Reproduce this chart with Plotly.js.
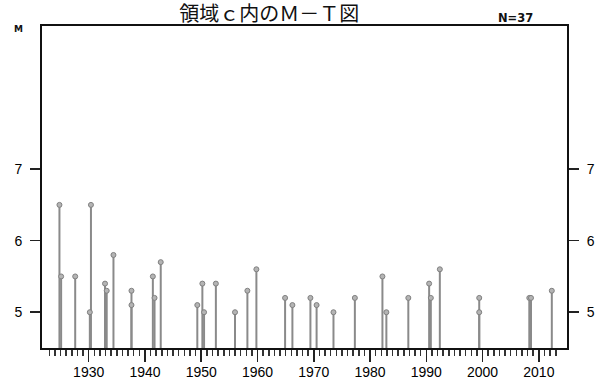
<!DOCTYPE html>
<html>
<head>
<meta charset="utf-8">
<script src="https://cdn.plot.ly/plotly-3.0.1.min.js"></script>
<style>html,body{margin:0;padding:0;background:#fff;}#chart{width:597px;height:381px;}</style>
</head>
<body>
<div id="chart"></div>
<script>
// Event times (decimal years) and magnitudes
const years = [1924.8, 1925.1, 1927.6, 1930.2, 1930.4, 1932.9, 1933.2, 1934.4, 1937.6, 1937.6,
               1941.4, 1941.7, 1942.8, 1949.3, 1950.2, 1950.5, 1952.6,
               1956.0, 1958.2, 1959.8, 1964.9, 1966.2, 1969.4, 1970.5, 1973.5, 1977.3, 1982.2, 1982.9,
               1986.8, 1990.5, 1990.8, 1992.4, 1999.4, 1999.4, 2008.3, 2008.6, 2012.3];
const mags  = [6.5, 5.5, 5.5, 5.0, 6.5, 5.4, 5.3, 5.8, 5.3, 5.1,
               5.5, 5.2, 5.7, 5.1, 5.4, 5.0, 5.4,
               5.0, 5.3, 5.6, 5.2, 5.1, 5.2, 5.1, 5.0, 5.2, 5.5, 5.0,
               5.2, 5.4, 5.2, 5.6, 5.2, 5.0, 5.2, 5.2, 5.3];
const yTicks = [5, 6, 7];
const xMajor = [1930, 1940, 1950, 1960, 1970, 1980, 1990, 2000, 2010];
const xMinorStart = 1923, xMinorEnd = 2013;
const yMin = 4.5, yMax = 9;
const titleText = '領域ｃ内のＭ－Ｔ図';
const countText = 'N=' + years.length;

const xMinor = [];
for (let y = xMinorStart; y <= xMinorEnd; y++) xMinor.push(y);

// stems as line segments from the bottom of the axis to each point
const sx = [], sy = [];
years.forEach((t, i) => { sx.push(t, t, null); sy.push(yMin, mags[i], null); });

const tickFont = {family: 'Liberation Sans Narrow, Liberation Sans, Arial, sans-serif', size: 14, color: '#000'};
const yFont = {family: 'Liberation Sans, Arial, sans-serif', size: 14, color: '#000'};

const traces = [
  {type: 'scatter', mode: 'lines', x: sx, y: sy, line: {color: '#8a8a8a', width: 2}, hoverinfo: 'skip', showlegend: false},
  {type: 'scatter', mode: 'markers', x: years, y: mags,
   marker: {symbol: 'circle', size: 5, color: '#b4b4b4', line: {color: '#808080', width: 1}}, showlegend: false},
  {type: 'scatter', mode: 'markers', x: [years[0]], y: [mags[0]], yaxis: 'y2', marker: {opacity: 0}, hoverinfo: 'skip', showlegend: false}
];

const layout = {
  width: 597, height: 381,
  margin: {l: 41.5, r: 30, t: 26, b: 33, pad: 0},
  paper_bgcolor: '#fff', plot_bgcolor: '#fff',
  title: {text: titleText, xref: 'container', yref: 'container', x: 0.451, y: 0.963, xanchor: 'center', yanchor: 'middle',
          font: {family: 'Noto Sans CJK JP, sans-serif', size: 20, color: '#111'}},
  xaxis: {range: [1921.7, 2015], showgrid: false, zeroline: false,
          showline: true, linecolor: '#111', linewidth: 2, mirror: true,
          tickmode: 'array', tickvals: xMajor, ticktext: xMajor.map(String),
          ticks: 'outside', ticklen: 12, tickwidth: 1.5, tickcolor: '#222',
          minor: {tickmode: 'array', tickvals: xMinor, ticks: 'outside', ticklen: 6, tickwidth: 1.5, tickcolor: '#333', showgrid: false},
          ticklabelstandoff: -2, tickfont: tickFont},
  yaxis: {range: [yMin, yMax], showgrid: false, zeroline: false,
          showline: true, linecolor: '#111', linewidth: 2,
          tickmode: 'array', tickvals: yTicks, ticktext: yTicks.map(String),
          ticks: 'outside', ticklen: 10, tickwidth: 1.5, tickcolor: '#222',
          ticklabelstandoff: 5, tickfont: yFont},
  yaxis2: {range: [yMin, yMax], overlaying: 'y', side: 'right', showgrid: false, zeroline: false,
           showline: true, linecolor: '#111', linewidth: 2,
           tickmode: 'array', tickvals: yTicks, ticktext: yTicks.map(String),
           ticks: 'outside', ticklen: 10, tickwidth: 1.5, tickcolor: '#222',
           ticklabelstandoff: 5, tickfont: yFont},
  annotations: [
    {text: countText, xref: 'paper', yref: 'paper', x: 0.902, y: 1.025, xanchor: 'center', yanchor: 'middle', showarrow: false,
     font: {family: 'DejaVu Sans, sans-serif', size: 11.5, color: '#111', weight: 'bold'}},
    {text: 'M', xref: 'paper', yref: 'paper', x: -0.0456, y: 0.992, xanchor: 'center', yanchor: 'middle', showarrow: false,
     font: {family: 'DejaVu Sans, sans-serif', size: 9, color: '#111', weight: 'bold'}}
  ]
};

Plotly.newPlot('chart', traces, layout, {displayModeBar: false, staticPlot: true});
</script>
</body>
</html>
